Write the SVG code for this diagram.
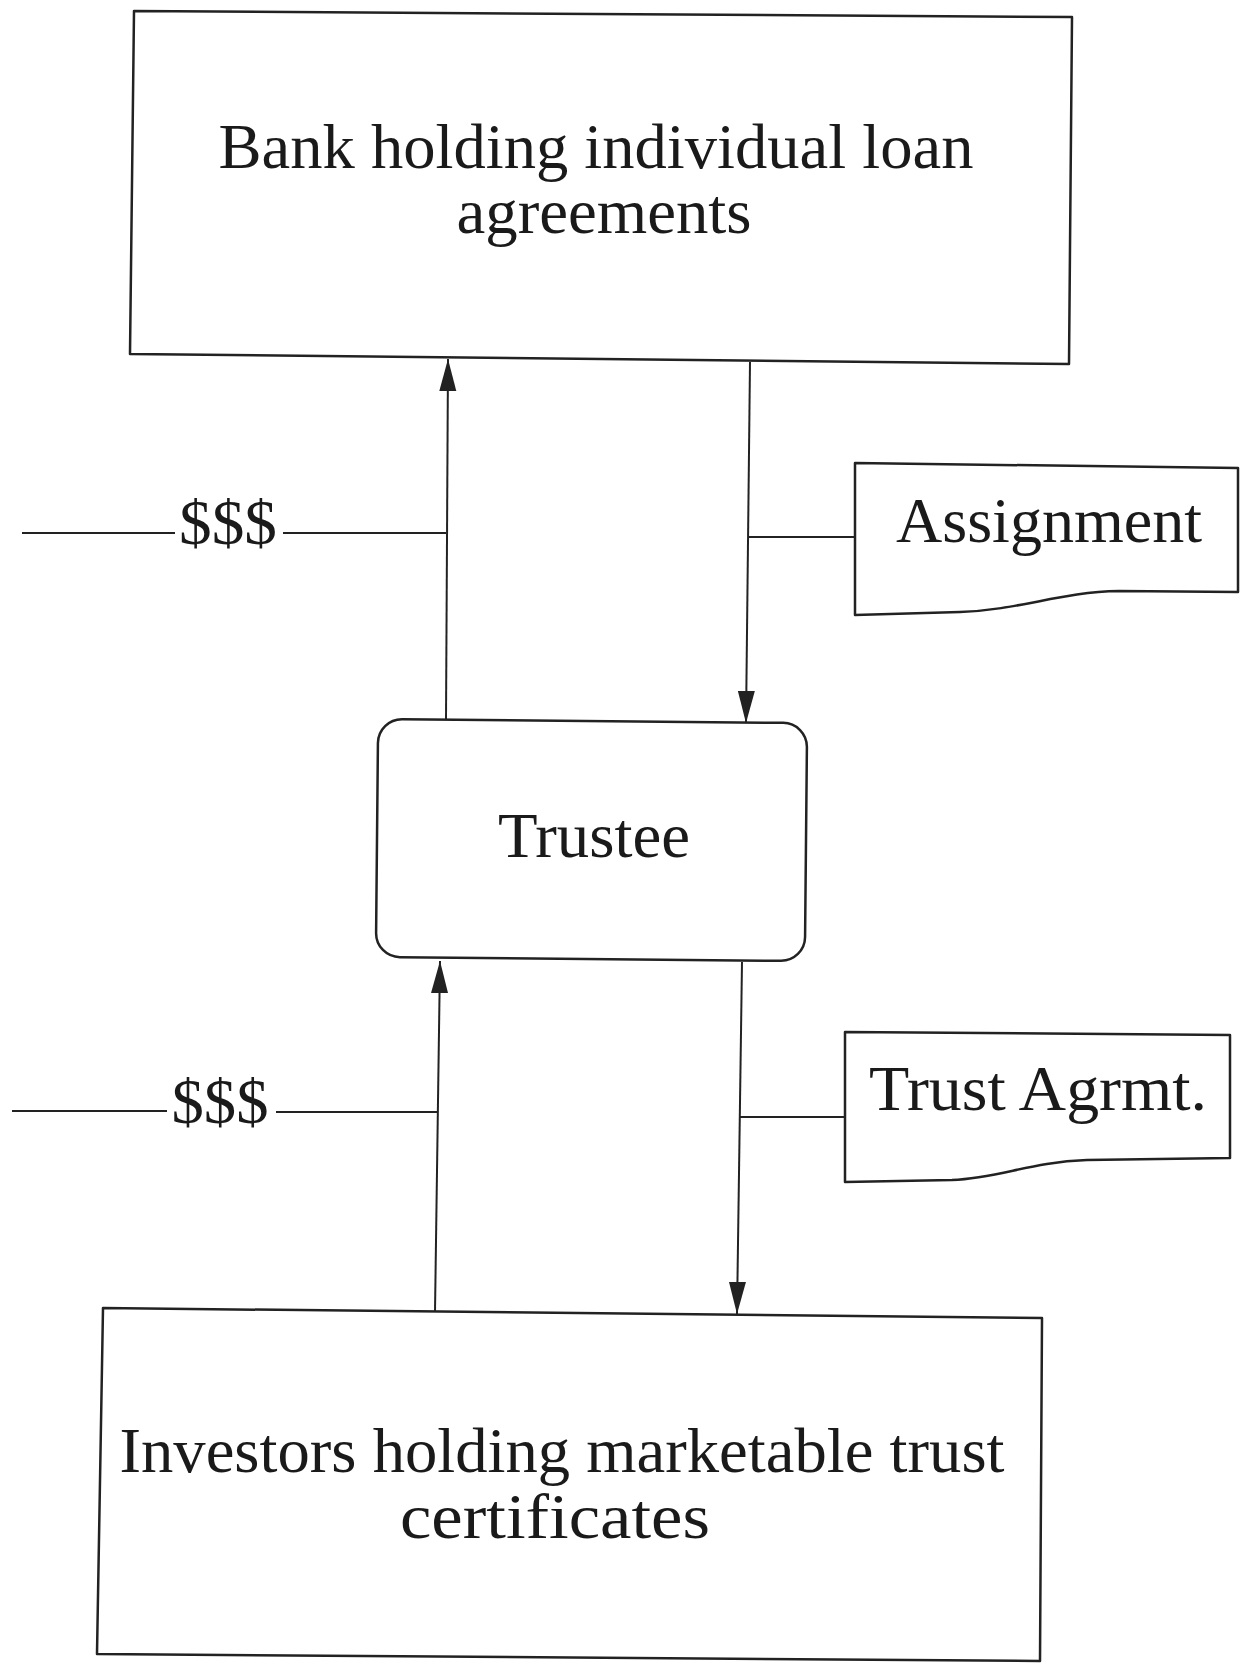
<svg xmlns="http://www.w3.org/2000/svg" width="1241" height="1663" viewBox="0 0 1241 1663">
<style>
.box{fill:none;stroke:#222;stroke-width:2.5;stroke-linejoin:round}
.ln{fill:none;stroke:#222;stroke-width:2}
.t{font-family:"Liberation Serif","Times New Roman",serif;font-size:64px;fill:#1a1a1a;font-variant-ligatures:none}
.c{text-anchor:middle}
</style>
<defs>
<marker id="ah" markerUnits="userSpaceOnUse" markerWidth="34" markerHeight="20" refX="32" refY="8.5" orient="auto">
<path d="M0,0 L32,8.5 L0,17 Z" fill="#222"/>
</marker>
</defs>
<rect width="1241" height="1663" fill="#fff"/>
<g id="bank">
<path class="box" d="M134,11 L1072,17 L1069,364 L130,354 Z"/>
<text class="t c" x="596" y="168" textLength="755" lengthAdjust="spacingAndGlyphs">Bank holding individual loan</text>
<text class="t c" x="604" y="233" textLength="295" lengthAdjust="spacingAndGlyphs">agreements</text>
</g>
<g id="trustee">
<rect class="box" x="377" y="721" width="429" height="238" rx="24" transform="rotate(0.55 591 840)"/>
<text class="t c" x="594" y="857" textLength="192" lengthAdjust="spacingAndGlyphs">Trustee</text>
</g>
<g id="investors">
<path class="box" d="M103,1308 L1042,1318 L1040,1661 L97,1654 Z"/>
<text class="t c" x="562" y="1472" textLength="885" lengthAdjust="spacingAndGlyphs">Investors holding marketable trust</text>
<text class="t c" x="555" y="1538" textLength="310" lengthAdjust="spacingAndGlyphs">certificates</text>
</g>
<g id="assignment">
<path class="box" d="M855,463 L1238,468 L1238,592 L1119,591 C1060,592 1020,610 960,612 L855,615 Z"/>
<text class="t" x="896" y="542" textLength="306" lengthAdjust="spacingAndGlyphs">Assignment</text>
</g>
<g id="trust-agrmt">
<path class="box" d="M845,1032 L1230,1035 L1230,1158 L1087,1160 C1030,1162 1000,1178 952,1180 L845,1182 Z"/>
<text class="t" x="869" y="1110" textLength="338" lengthAdjust="spacingAndGlyphs">Trust Agrmt.</text>
</g>
<g id="labels">
<text class="t c" x="228" y="544" textLength="98" lengthAdjust="spacingAndGlyphs">$$$</text>
<text class="t c" x="220" y="1123" textLength="97" lengthAdjust="spacingAndGlyphs">$$$</text>
</g>
<g id="connectors">
<line class="ln" x1="446" y1="720" x2="448" y2="359" marker-end="url(#ah)"/>
<line class="ln" x1="750" y1="362" x2="746" y2="723" marker-end="url(#ah)"/>
<line class="ln" x1="22" y1="533" x2="175" y2="533"/>
<line class="ln" x1="283" y1="533" x2="446" y2="533"/>
<line class="ln" x1="749" y1="537" x2="855" y2="537"/>
<line class="ln" x1="435" y1="1312" x2="440" y2="961" marker-end="url(#ah)"/>
<line class="ln" x1="742" y1="962" x2="737" y2="1314" marker-end="url(#ah)"/>
<line class="ln" x1="12" y1="1111" x2="167" y2="1111"/>
<line class="ln" x1="276" y1="1112" x2="437" y2="1112"/>
<line class="ln" x1="739" y1="1117" x2="845" y2="1117"/>
</g>
</svg>
